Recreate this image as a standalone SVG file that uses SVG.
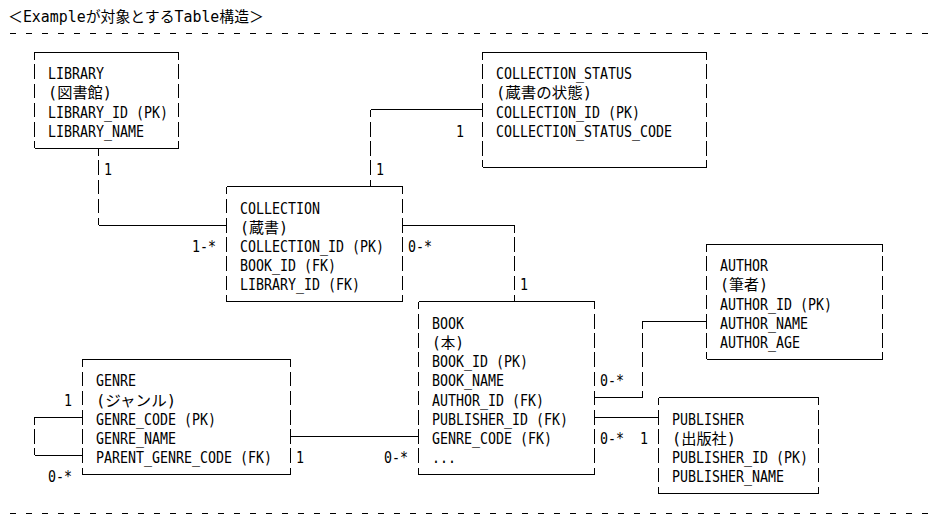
<svg xmlns="http://www.w3.org/2000/svg" width="936" height="529" viewBox="0 0 936 529">
<style>
.h{stroke:#000;stroke-width:1;fill:none;shape-rendering:crispEdges}
.v{stroke:#000;stroke-width:1;fill:none;shape-rendering:crispEdges;stroke-dasharray:14.5 4.7;stroke-dashoffset:7}
.sep{stroke:#000;stroke-width:1;fill:none;shape-rendering:crispEdges;stroke-dasharray:6 10}
text{font-family:'DejaVu Sans Mono','Noto Sans CJK JP',monospace;font-size:15px;fill:#000;lengthAdjust:spacingAndGlyphs}
</style>
<rect width="936" height="529" fill="#fff"/>
<text x="8" y="21.6" textLength="256" lengthAdjust="spacingAndGlyphs">＜Exampleが対象とするTable構造＞</text>
<path class="sep" d="M10 33H932M10 513H932"/>

<g id="library">
<path class="h" d="M34.5 52.2H178.5M34.5 148.2H178.5"/>
<path class="v" d="M34.5 52.2V148.2M178.5 52.2V148.2"/>
<text x="48" y="79.2" textLength="56" lengthAdjust="spacingAndGlyphs">LIBRARY</text>
<text x="48" y="98.4" textLength="64" lengthAdjust="spacingAndGlyphs">(図書館)</text>
<text x="48" y="117.6" textLength="120" lengthAdjust="spacingAndGlyphs">LIBRARY_ID (PK)</text>
<text x="48" y="136.8" textLength="96" lengthAdjust="spacingAndGlyphs">LIBRARY_NAME</text>
</g>

<g id="collection_status">
<path class="h" d="M482.5 52.2H706.5M482.5 167.4H706.5"/>
<path class="v" d="M482.5 52.2V167.4M706.5 52.2V167.4"/>
<text x="496" y="79.2" textLength="136" lengthAdjust="spacingAndGlyphs">COLLECTION_STATUS</text>
<text x="496" y="98.4" textLength="96" lengthAdjust="spacingAndGlyphs">(蔵書の状態)</text>
<text x="496" y="117.6" textLength="144" lengthAdjust="spacingAndGlyphs">COLLECTION_ID (PK)</text>
<text x="496" y="136.8" textLength="176" lengthAdjust="spacingAndGlyphs">COLLECTION_STATUS_CODE</text>
</g>

<g id="collection">
<path class="h" d="M226.5 186.6H402.5M226.5 301.8H402.5"/>
<path class="v" d="M226.5 186.6V301.8M402.5 186.6V301.8"/>
<text x="240" y="213.6" textLength="80" lengthAdjust="spacingAndGlyphs">COLLECTION</text>
<text x="240" y="232.8" textLength="48" lengthAdjust="spacingAndGlyphs">(蔵書)</text>
<text x="240" y="252" textLength="144" lengthAdjust="spacingAndGlyphs">COLLECTION_ID (PK)</text>
<text x="240" y="271.2" textLength="96" lengthAdjust="spacingAndGlyphs">BOOK_ID (FK)</text>
<text x="240" y="290.4" textLength="120" lengthAdjust="spacingAndGlyphs">LIBRARY_ID (FK)</text>
</g>

<g id="author">
<path class="h" d="M706.5 244.2H882.5M706.5 359.4H882.5"/>
<path class="v" d="M706.5 244.2V359.4M882.5 244.2V359.4"/>
<text x="720" y="271.2" textLength="48" lengthAdjust="spacingAndGlyphs">AUTHOR</text>
<text x="720" y="290.4" textLength="48" lengthAdjust="spacingAndGlyphs">(筆者)</text>
<text x="720" y="309.6" textLength="112" lengthAdjust="spacingAndGlyphs">AUTHOR_ID (PK)</text>
<text x="720" y="328.8" textLength="88" lengthAdjust="spacingAndGlyphs">AUTHOR_NAME</text>
<text x="720" y="348" textLength="80" lengthAdjust="spacingAndGlyphs">AUTHOR_AGE</text>
</g>

<g id="book">
<path class="h" d="M418.5 301.8H594.5M418.5 474.6H594.5"/>
<path class="v" d="M418.5 301.8V474.6M594.5 301.8V474.6"/>
<text x="432" y="328.8" textLength="32" lengthAdjust="spacingAndGlyphs">BOOK</text>
<text x="432" y="348" textLength="32" lengthAdjust="spacingAndGlyphs">(本)</text>
<text x="432" y="367.2" textLength="96" lengthAdjust="spacingAndGlyphs">BOOK_ID (PK)</text>
<text x="432" y="386.4" textLength="72" lengthAdjust="spacingAndGlyphs">BOOK_NAME</text>
<text x="432" y="405.6" textLength="112" lengthAdjust="spacingAndGlyphs">AUTHOR_ID (FK)</text>
<text x="432" y="424.8" textLength="136" lengthAdjust="spacingAndGlyphs">PUBLISHER_ID (FK)</text>
<text x="432" y="444" textLength="120" lengthAdjust="spacingAndGlyphs">GENRE_CODE (FK)</text>
<text x="432" y="463.2" textLength="24" lengthAdjust="spacingAndGlyphs">...</text>
</g>

<g id="genre">
<path class="h" d="M82.5 359.4H290.5M82.5 474.6H290.5"/>
<path class="v" d="M82.5 359.4V474.6M290.5 359.4V474.6"/>
<text x="96" y="386.4" textLength="40" lengthAdjust="spacingAndGlyphs">GENRE</text>
<text x="96" y="405.6" textLength="80" lengthAdjust="spacingAndGlyphs">(ジャンル)</text>
<text x="96" y="424.8" textLength="120" lengthAdjust="spacingAndGlyphs">GENRE_CODE (PK)</text>
<text x="96" y="444" textLength="80" lengthAdjust="spacingAndGlyphs">GENRE_NAME</text>
<text x="96" y="463.2" textLength="176" lengthAdjust="spacingAndGlyphs">PARENT_GENRE_CODE (FK)</text>
</g>

<g id="publisher">
<path class="h" d="M658.5 397.8H818.5M658.5 493.8H818.5"/>
<path class="v" d="M658.5 397.8V493.8M818.5 397.8V493.8"/>
<text x="672" y="424.8" textLength="72" lengthAdjust="spacingAndGlyphs">PUBLISHER</text>
<text x="672" y="444" textLength="64" lengthAdjust="spacingAndGlyphs">(出版社)</text>
<text x="672" y="463.2" textLength="136" lengthAdjust="spacingAndGlyphs">PUBLISHER_ID (PK)</text>
<text x="672" y="482.4" textLength="112" lengthAdjust="spacingAndGlyphs">PUBLISHER_NAME</text>
</g>

<g id="connectors">
<path class="v" d="M98.5 148.2V225"/>
<path class="h" d="M98.5 225H226.5"/>
<path class="v" d="M370.5 109.8V186.6"/>
<path class="h" d="M370.5 109.8H482.5"/>
<path class="h" d="M402.5 225H514.5"/>
<path class="v" d="M514.5 225V301.8"/>
<path class="h" d="M594.5 397.8H642.5"/>
<path class="v" d="M642.5 321V397.8"/>
<path class="h" d="M642.5 321H706.5"/>
<path class="h" d="M594.5 417H658.5"/>
<path class="h" d="M290.5 436.2H418.5"/>
<path class="h" d="M34.5 417H82.5M34.5 455.4H82.5"/>
<path class="v" d="M34.5 417V455.4"/>
<text x="104" y="175.2" textLength="8" lengthAdjust="spacingAndGlyphs">1</text>
<text x="192" y="252" textLength="24" lengthAdjust="spacingAndGlyphs">1-*</text>
<text x="376" y="175.2" textLength="8" lengthAdjust="spacingAndGlyphs">1</text>
<text x="456" y="136.8" textLength="8" lengthAdjust="spacingAndGlyphs">1</text>
<text x="408" y="252" textLength="24" lengthAdjust="spacingAndGlyphs">0-*</text>
<text x="520" y="290.4" textLength="8" lengthAdjust="spacingAndGlyphs">1</text>
<text x="600" y="386.4" textLength="24" lengthAdjust="spacingAndGlyphs">0-*</text>
<text x="600" y="444" textLength="24" lengthAdjust="spacingAndGlyphs">0-*</text>
<text x="640" y="444" textLength="8" lengthAdjust="spacingAndGlyphs">1</text>
<text x="296" y="463.2" textLength="8" lengthAdjust="spacingAndGlyphs">1</text>
<text x="384" y="463.2" textLength="24" lengthAdjust="spacingAndGlyphs">0-*</text>
<text x="64" y="405.6" textLength="8" lengthAdjust="spacingAndGlyphs">1</text>
<text x="48" y="482.4" textLength="24" lengthAdjust="spacingAndGlyphs">0-*</text>
</g>
</svg>
